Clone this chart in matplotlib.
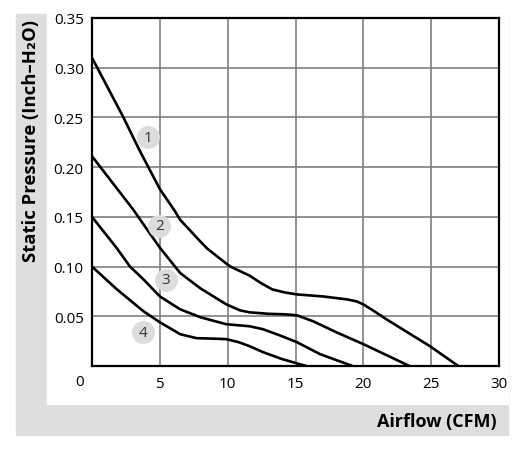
import matplotlib
matplotlib.use('Agg')
import matplotlib.pyplot as plt
from matplotlib.patches import Rectangle

plt.rcParams['font.family'] = ['Open Sans', 'DejaVu Sans']

# fan curves (airflow CFM, static pressure inch-H2O)
curve1_x = [0, 1.2, 2.3, 3.5, 5.0, 6.1, 6.5, 8.0, 8.5, 9.9, 10.2, 11.6, 12.5, 13.3, 14.2, 15.1, 17, 18.8, 19.5, 20.0, 20.7, 21.7, 24.9, 27.0]
curve1_y = [0.31, 0.279, 0.2505, 0.217, 0.178, 0.156, 0.147, 0.125, 0.118, 0.103, 0.100, 0.091, 0.083, 0.077, 0.074, 0.072, 0.070, 0.067, 0.065, 0.062, 0.056, 0.047, 0.020, 0.0]

curve2_x = [0, 1.3, 3.0, 5.0, 6.5, 8.0, 9.9, 10.9, 11.6, 13.0, 14.2, 15.1, 15.7, 16.3, 18, 20.0, 23.4]
curve2_y = [0.211, 0.188, 0.158, 0.119, 0.0935, 0.078, 0.062, 0.056, 0.054, 0.0525, 0.052, 0.051, 0.048, 0.045, 0.034, 0.022, 0.0]

curve3_x = [0, 1.8, 2.8, 3.8, 5.0, 6.5, 8.0, 9.9, 11.6, 12.6, 13.8, 15.1, 16.8, 19.2]
curve3_y = [0.15, 0.119, 0.10, 0.087, 0.070, 0.057, 0.049, 0.042, 0.040, 0.037, 0.031, 0.024, 0.012, 0.0]

curve4_x = [0, 1.8, 3.8, 5.0, 6.5, 7.7, 9.0, 9.9, 10.8, 11.6, 12.6, 14, 15.8]
curve4_y = [0.10, 0.0775, 0.055, 0.044, 0.032, 0.028, 0.0275, 0.027, 0.024, 0.020, 0.014, 0.007, 0.0]

curves = [(curve1_x, curve1_y), (curve2_x, curve2_y), (curve3_x, curve3_y), (curve4_x, curve4_y)]

# number badges
badge_text = ['1', '2', '3', '4']
badge_x = [4.1, 4.95, 5.45, 3.76]
badge_y = [0.230, 0.141, 0.0865, 0.034]

x_ticks = [5, 10, 15, 20, 25, 30]
y_ticks = [0.05, 0.10, 0.15, 0.20, 0.25, 0.30, 0.35]

W, H = 520, 452
fig = plt.figure(figsize=(W / 100, H / 100), dpi=100)

# grey L-shaped frame behind the chart
fig.patches.append(Rectangle((16 / W, 1 - 436 / H), (508 - 16) / W, (436 - 15) / H,
                             transform=fig.transFigure, color='#dedede', zorder=-10))
fig.patches.append(Rectangle((47 / W, 1 - 405 / H), (508 - 47) / W, (405 - 15) / H,
                             transform=fig.transFigure, color='white', zorder=-9))

ax = fig.add_axes([92 / W, 1 - 367 / H, (499 - 92) / W, (367 - 19) / H])
ax.set_xlim(0, 30)
ax.set_ylim(0, 0.35)

for xs, ys in curves:
    ax.plot(xs, ys, color='black', lw=1.9, solid_capstyle='butt', solid_joinstyle='round', zorder=3)

for t, bx, by in zip(badge_text, badge_x, badge_y):
    ax.plot(bx, by, 'o', ms=16.5, color='#dcdcdc', mec='none', zorder=4)
    ax.text(bx, by, t, ha='center', va='center', fontsize=11, color='#333333', zorder=5)

ax.set_xticks(x_ticks)
ax.set_yticks(y_ticks)
ax.set_xticklabels([str(v) for v in x_ticks])
ax.set_yticklabels(['%.2f' % v for v in y_ticks])
ax.tick_params(length=0, labelsize=11, colors='black')
ax.tick_params(axis='x', pad=7)
ax.tick_params(axis='y', pad=6)
ax.annotate('0', (0, 0), xytext=(-8.6, -11.5), textcoords='offset points',
            ha='center', va='center', fontsize=11)

ax.grid(True, color='#808080', lw=1.2)
ax.set_axisbelow(True)
for s in ax.spines.values():
    s.set_linewidth(1.6)
    s.set_color('black')

fig.text(31 / W, 1 - 141 / H, 'Static Pressure (Inch\u2013H\u2082O)', rotation=90,
         ha='center', va='center', fontsize=13.3, fontweight='bold')
fig.text(497 / W, 1 - 422 / H, 'Airflow (CFM)', ha='right', va='center',
         fontsize=13, fontweight='bold')

fig.savefig('out.png', dpi=100)
